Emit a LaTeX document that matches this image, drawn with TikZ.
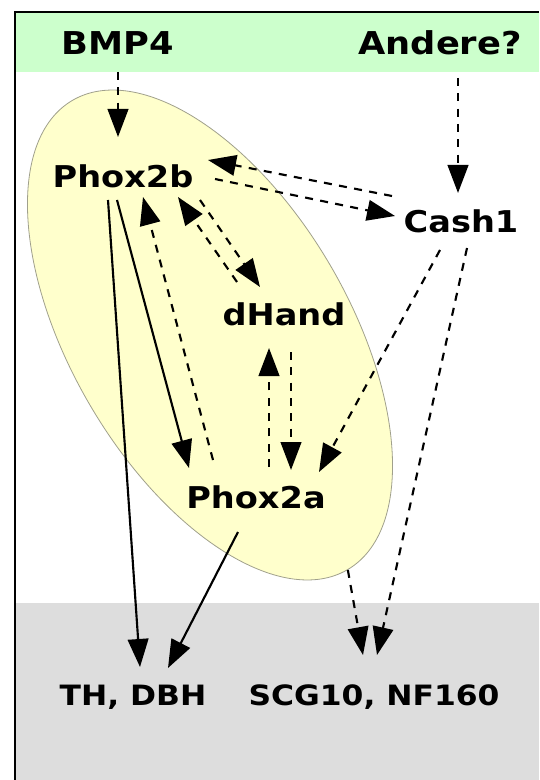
\documentclass[tikz,border=0pt]{standalone}
\usepackage{fontspec}
\newfontfamily\lbl[FakeStretch=1.12]{DejaVu Sans}
\usetikzlibrary{arrows.meta,shapes.geometric,calc}
\definecolor{bandgreen}{HTML}{CCFFCC}
\definecolor{bandgray}{HTML}{DDDDDD}
\definecolor{cellfill}{HTML}{FFFFCC}
\definecolor{celledge}{HTML}{A0A08C}
\begin{document}
\begin{tikzpicture}[x=0.75pt,y=-0.75pt,
  toplabel/.style={font=\lbl\bfseries\fontsize{23.6}{28}\selectfont, inner sep=0pt},
  gene/.style={font=\lbl\bfseries\fontsize{22.5}{27}\selectfont, inner sep=0pt},
  target/.style={font=\lbl\bfseries\fontsize{21}{25}\selectfont, inner sep=0pt},
  conn/.style={line width=1.6pt, -{Triangle[length=21pt,width=15.5pt]}},
  dconn/.style={conn, dash pattern=on 6pt off 5.5pt}]
\useasboundingbox (0,0) rectangle (539,780);
% bands
\fill[bandgreen] (15,12) rectangle (539,72);
\fill[bandgray] (15,603) rectangle (539,780);
\draw[line width=1.8pt] (15,780) -- (15,12) -- (539,12);
% cluster ellipse
\node[ellipse, draw=celledge, fill=cellfill, line width=0.6pt, inner sep=0pt,
      minimum width=408pt, minimum height=208.5pt, rotate=-59.6] (cluster) at (210,335) {};
% labels
\node[toplabel] (bmp) at (118,43) {BMP4};
\node[toplabel] (andere) at (440,43) {Andere?};
\node[gene] (p2b) at (123,176) {Phox2b};
\node[gene] (cash) at (461,221) {Cash1};
\node[gene] (dhand) at (284,314) {dHand};
\node[gene] (p2a) at (256,497) {Phox2a};
\node[target] (th) at (133,697) {TH, DBH};
\node[target] (scg) at (374,697) {SCG10, NF160};
% connectors
\draw[dconn] ($(bmp)+(0,29)$) -- ($(p2b)+(-5,-39)$);
\draw[dconn] ($(andere)+(18,35)$) -- ($(cash)+(-3,-28)$);
\draw[dconn] ($(cash)+(-69,-25)$) -- ($(p2b)+(85,-16)$);
\draw[dconn] ($(p2b)+(92,3)$) -- ($(cash)+(-66,-5)$);
\draw[dconn] ($(dhand)+(-47,-32)$) -- ($(p2b)+(55,21)$);
\draw[dconn] ($(p2b)+(77,24)$) -- ($(dhand)+(-24,-27)$);
\draw[dconn] ($(p2a)+(-43,-37)$) -- ($(p2b)+(20,21)$);
\draw[conn] ($(p2b)+(-6,24)$) -- ($(p2a)+(-67,-29)$);
\draw[conn] ($(p2b)+(-15,24)$) -- ($(th)+(7,-30)$);
\draw[dconn] ($(p2a)+(13,-30)$) -- ($(dhand)+(-15,34)$);
\draw[dconn] ($(dhand)+(7,38)$) -- ($(p2a)+(35,-27)$);
\draw[dconn] ($(cash)+(-21,29)$) -- ($(p2a)+(63,-25)$);
\draw[conn] ($(p2a)+(-18,35)$) -- ($(th)+(35,-29)$);
\draw[dconn] ($(cash)+(6,27)$) -- ($(scg)+(3,-42)$);
\draw[dconn] (cluster.east) -- ($(scg)+(-11,-42)$);
\end{tikzpicture}
\end{document}
